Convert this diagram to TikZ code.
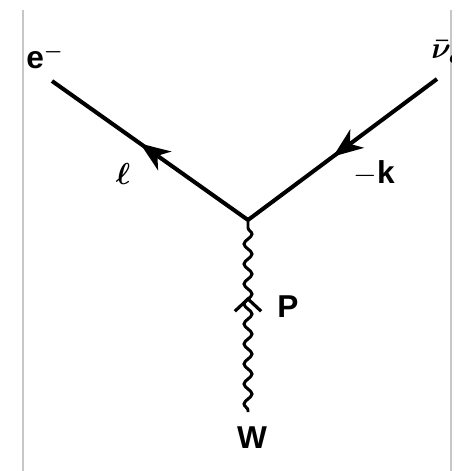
\documentclass[tikz,border=0pt]{standalone}
\usepackage{amsmath}
\usepackage{amssymb}
\usepackage{fontspec}
\setmainfont{Liberation Sans}
\usetikzlibrary{arrows.meta,decorations.pathmorphing,decorations.markings,positioning}
\tikzset{
    fermion/.style={
        draw,
        line width=2.3pt,
        postaction={decorate},
        decoration={markings,
            mark=at position #1 with {\arrow{Stealth[length=17pt,width=13pt,inset=5pt]}}}
    },
    fermion/.default=0.55,
    wboson/.style={
        draw,
        line width=1.7pt,
        decorate,
        decoration={snake, segment length=0.4cm, amplitude=0.08cm,
            pre length=1pt, post length=1pt}
    },
    wmark/.style={
        postaction={decorate},
        decoration={markings,
            mark=at position #1 with {\arrow[line width=1.8pt]{Straight Barb[length=7pt,width=15pt]}}}
    },
    frame/.style={
        draw=black!22,
        line width=0.9pt
    },
    lbl/.style={
        inner sep=0pt,
        font=\fontsize{18}{21}\selectfont\bfseries
    }
}
\begin{document}
\begin{tikzpicture}[x=0.02cm,y=-0.02cm]
    \useasboundingbox (0,0) rectangle (459,471);
    % page edges
    \draw[frame] (23,10) -- (23,471);
    \draw[frame] (451,10) -- (451,471);

    \coordinate (vtx) at (248,220);
    \coordinate (eend) at (52,81);
    \coordinate (nuend) at (437,79);
    \coordinate (wend) at (248,412);

    \node[lbl] (elabel) at (45,56) {e$^{\boldsymbol{-}}$};
    \begin{scope}
        \clip (0,0) rectangle (451,471);
        \node[lbl, anchor=west] (nulabel) at (431,52) {$\boldsymbol{\bar{\nu}_e}$};
    \end{scope}
    \node[lbl] (ell) at (123,174) {$\boldsymbol{\ell}$};
    \node[lbl] (mk) at (374,173) {$-$k};
    \node[lbl] (plabel) at (288,307) {P};
    \node[lbl] (wlabel) at (252,438) {W};

    \path[fermion] (vtx) -- (eend);
    \path[fermion] (nuend) -- (vtx);
    \path[wboson] (wend) -- (vtx);
    \path[wmark=0.6] (wend) -- (vtx);
\end{tikzpicture}
\end{document}
